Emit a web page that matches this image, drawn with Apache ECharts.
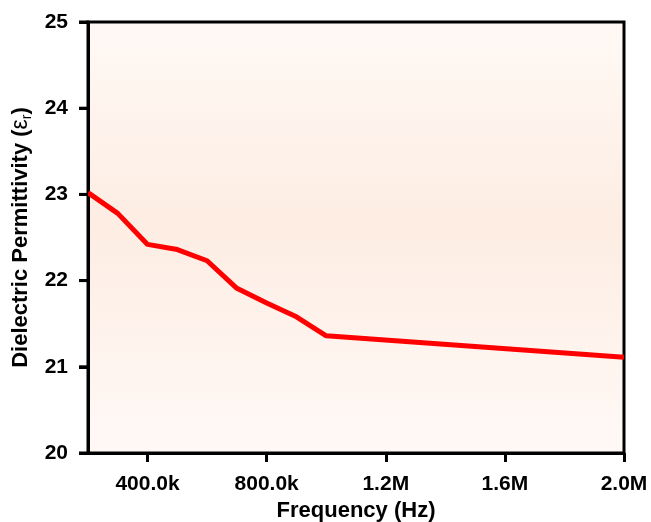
<!DOCTYPE html>
<html>
<head>
<meta charset="utf-8">
<script src="https://cdn.jsdelivr.net/npm/echarts@6/dist/echarts.min.js"></script>
<style>html,body{margin:0;padding:0;background:#fff;overflow:hidden;}#c{width:651px;height:522px;}</style>
</head>
<body>
<div id="c"></div>
<script>
var frequency = [200000, 300000, 400000, 500000, 600000, 700000, 800000, 900000, 1000000, 2000000];
var permittivity = [23.02, 22.78, 22.42, 22.36, 22.23, 21.91, 21.74, 21.58, 21.36, 21.11];
var xTickValues = [400000, 800000, 1200000, 1600000, 2000000];
var xTickLabels = ['400.0k', '800.0k', '1.2M', '1.6M', '2.0M'];
var yTicks = [20, 21, 22, 23, 24, 25];
var xMin = 200000, xMax = 2000000;

var chart = echarts.init(document.getElementById('c'));
var font = '"Liberation Sans", Arial, sans-serif';
chart.setOption({
  animation: false,
  grid: {
    left: 88, right: 27, top: 22, bottom: 69,
    outerBoundsMode: 'none',
    containLabel: false,
    show: true,
    borderColor: '#000', borderWidth: 3,
    backgroundColor: new echarts.graphic.LinearGradient(0, 0, 0, 1, [
      {offset: 0, color: '#fff9f5'},
      {offset: 0.47, color: '#fdede3'},
      {offset: 1, color: '#fff9f6'}
    ])
  },
  xAxis: {
    type: 'value', min: xMin, max: xMax, interval: 400000,
    name: 'Frequency (Hz)', nameLocation: 'middle', nameGap: 46,
    nameTextStyle: {fontFamily: font, fontWeight: 'bold', fontSize: 22, color: '#000'},
    axisLine: {lineStyle: {color: '#000', width: 3}},
    axisTick: {show: true, inside: false, length: 9, lineStyle: {color: '#000', width: 3},
      customValues: xTickValues},
    axisLabel: {fontFamily: font, fontWeight: 'bold', fontSize: 21, color: '#000', margin: 21,
      customValues: xTickValues,
      formatter: function (v) { var i = xTickValues.indexOf(v); return i >= 0 ? xTickLabels[i] : ''; }},
    splitLine: {show: false}
  },
  yAxis: {
    type: 'value', min: 20, max: 25, interval: 1, position: 'left',
    name: '{a|Dielectric Permittivity (}{e|ε}{s|r}{a|)}', nameLocation: 'middle', nameGap: 50,
    nameTextStyle: {
      rich: {
        a: {fontFamily: font, fontWeight: 'bold', fontSize: 22, color: '#000'},
        e: {fontFamily: font, fontWeight: 'normal', fontSize: 23, color: '#000'},
        s: {fontFamily: font, fontWeight: 'normal', fontSize: 14, color: '#000', verticalAlign: 'bottom', padding: [12, 0, 0, 0]}
      }
    },
    axisLine: {show: true, onZero: false, lineStyle: {color: '#000', width: 3}},
    axisTick: {show: true, inside: false, length: 9, lineStyle: {color: '#000', width: 3}},
    axisLabel: {fontFamily: font, fontWeight: 'bold', fontSize: 21, color: '#000', margin: 20},
    splitLine: {show: false}
  },
  series: [{
    type: 'line',
    data: frequency.map(function (f, i) { return [f, permittivity[i]]; }),
    showSymbol: false, symbol: 'none',
    lineStyle: {color: '#ff0000', width: 5},
    z: 3
  }, {
    type: 'custom',
    silent: true,
    clip: false,
    z: 10,
    data: yTicks.map(function (v) { return [xMin, v]; }),
    renderItem: function (params, api) {
      var p = api.coord([api.value(0), api.value(1)]);
      return {
        type: 'line',
        shape: {x1: p[0] - 9, y1: p[1], x2: p[0], y2: p[1]},
        style: {stroke: '#000', lineWidth: 3}
      };
    }
  }]
});
</script>
</body>
</html>
